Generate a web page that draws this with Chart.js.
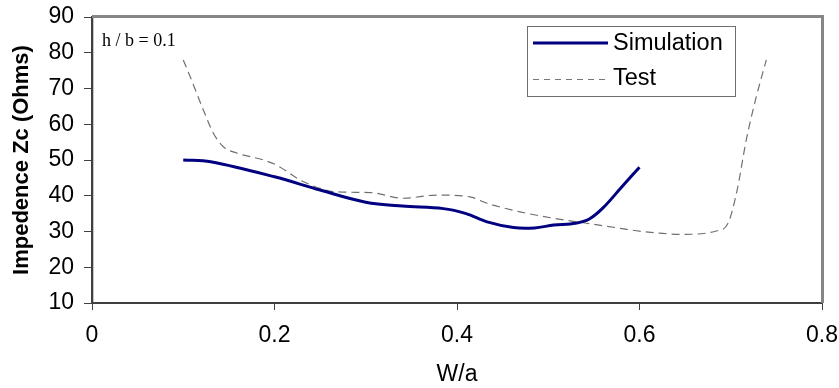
<!DOCTYPE html>
<html>
<head>
<meta charset="utf-8">
<script src="https://cdn.jsdelivr.net/npm/chart.js@4.4.1/dist/chart.umd.min.js"></script>
<style>
  html, body { margin: 0; padding: 0; background: #fff; }
  #wrap { width: 839px; height: 388px; }
</style>
</head>
<body>
<div id="wrap"><canvas id="chart" width="839" height="388"></canvas></div>
<script>
// W/a values and impedance (Ohms)
const simX = [0.1, 0.13, 0.2, 0.25, 0.3, 0.34, 0.385, 0.41, 0.433, 0.462, 0.485, 0.506, 0.53, 0.545, 0.56, 0.58, 0.6];
const simY = [50, 49.5, 45.3, 41.6, 38.2, 37.1, 36.4, 35.0, 32.7, 31.1, 31.0, 31.8, 32.3, 33.5, 36.6, 42.3, 48];

const testX = [0.1, 0.109, 0.122, 0.133, 0.144, 0.159, 0.188, 0.202, 0.232, 0.268, 0.305, 0.341, 0.378, 0.414,
  0.433, 0.469, 0.506, 0.542, 0.579, 0.6, 0.648, 0.685, 0.697, 0.707, 0.717, 0.728, 0.739];
const testY = [78, 72.4, 64, 57.5, 53.7, 51.9, 50, 48.6, 43.9, 41.1, 40.9, 39.3, 40.2, 39.7,
  37.9, 35.5, 33.7, 32.3, 30.9, 30.1, 29.2, 30.2, 32.3, 41.6, 55.6, 67.7, 78];

const xTicks = [0, 0.2, 0.4, 0.6, 0.8];
const yTicks = [10, 20, 30, 40, 50, 60, 70, 80, 90];

const seriesNames = ['Simulation', 'Test'];
const note = 'h / b = 0.1';

const SANS = '"Liberation Sans", Arial, sans-serif';
const SERIF = '"Liberation Serif", "Times New Roman", serif';

const toPoints = (xs, ys) => xs.map((x, i) => ({ x: x, y: ys[i] }));

// keep the plot box where the reference has it (no extra room for edge labels)
const noEdgePadding = s => {
  s.paddingLeft = 0;
  s.paddingRight = 0;
  s.paddingTop = 0;
  s.paddingBottom = 0;
};

// frame, legend box and the h/b note
const extras = {
  id: 'extras',
  beforeDatasetsDraw(chart) {
    const { ctx, chartArea: a } = chart;
    ctx.save();
    ctx.strokeStyle = '#868686';
    ctx.lineWidth = 3;
    ctx.beginPath();
    ctx.moveTo(a.left, a.top - 0.5);
    ctx.lineTo(a.right + 0.5, a.top - 0.5);
    ctx.lineTo(a.right + 0.5, a.bottom);
    ctx.stroke();
    // light inner edge next to the dark axis
    ctx.strokeStyle = '#c8c8c8';
    ctx.lineWidth = 1;
    ctx.beginPath();
    ctx.moveTo(a.left + 1.5, a.top + 1);
    ctx.lineTo(a.left + 1.5, a.bottom - 1);
    ctx.stroke();
    ctx.restore();
  },
  afterDraw(chart) {
    const ctx = chart.ctx;
    ctx.save();
    // legend
    ctx.fillStyle = '#fff';
    ctx.fillRect(527, 26, 209, 71);
    ctx.strokeStyle = '#6e6e6e';
    ctx.lineWidth = 1;
    ctx.strokeRect(527.5, 26.5, 208, 70);

    ctx.strokeStyle = '#000080';
    ctx.lineWidth = 3;
    ctx.beginPath();
    ctx.moveTo(533, 43);
    ctx.lineTo(608, 43);
    ctx.stroke();

    ctx.strokeStyle = '#777';
    ctx.lineWidth = 1;
    ctx.setLineDash([6, 5]);
    ctx.beginPath();
    ctx.moveTo(533, 79.5);
    ctx.lineTo(608, 79.5);
    ctx.stroke();
    ctx.setLineDash([]);

    ctx.fillStyle = '#000';
    ctx.font = '23.5px ' + SANS;
    ctx.textBaseline = 'middle';
    ctx.fillText(seriesNames[0], 613, 44);
    ctx.fillText(seriesNames[1], 613, 79);

    ctx.font = '18px ' + SERIF;
    ctx.textBaseline = 'alphabetic';
    ctx.fillText(note, 102, 46);
    ctx.restore();
  }
};

new Chart(document.getElementById('chart').getContext('2d'), {
  type: 'line',
  data: {
    datasets: [{
      label: seriesNames[0],
      data: toPoints(simX, simY),
      borderColor: '#000080',
      borderWidth: 3,
      pointRadius: 0,
      tension: 0.35,
      fill: false
    }, {
      label: seriesNames[1],
      data: toPoints(testX, testY),
      borderColor: '#707070',
      borderWidth: 1.2,
      borderDash: [8, 5],
      pointRadius: 0,
      cubicInterpolationMode: 'monotone',
      fill: false
    }]
  },
  options: {
    responsive: false,
    animation: false,
    layout: { autoPadding: false, padding: { left: 0, top: 17, right: 17, bottom: 0 } },
    plugins: {
      legend: { display: false },
      tooltip: { enabled: false }
    },
    scales: {
      x: {
        type: 'linear',
        min: 0,
        max: 0.8,
        afterBuildTicks: s => { s.ticks = xTicks.map(v => ({ value: v })); },
        afterFit: s => { s.height = 85; noEdgePadding(s); },
        ticks: {
          color: '#000',
          padding: 12,
          font: { family: SANS, size: 23 },
          callback: v => String(v)
        },
        grid: { display: true, drawOnChartArea: false, drawTicks: true, tickLength: 7, color: '#404040' },
        border: { display: true, color: '#404040', width: 2 },
        title: {
          display: true,
          text: 'W/a',
          color: '#000',
          font: { family: SANS, size: 23 },
          padding: { top: 0, bottom: 0 }
        }
      },
      y: {
        min: 10,
        max: 90,
        afterBuildTicks: s => { s.ticks = yTicks.map(v => ({ value: v })); },
        afterFit: s => { s.width = 92; noEdgePadding(s); },
        ticks: {
          color: '#000',
          padding: 10,
          font: { family: SANS, size: 23 }
        },
        grid: { display: true, drawOnChartArea: false, drawTicks: true, tickLength: 8, color: '#404040' },
        border: { display: true, color: '#404040', width: 2 },
        title: {
          display: true,
          text: 'Impedence Zc (Ohms)',
          color: '#000',
          font: { family: SANS, size: 22, weight: 'bold' },
          padding: { top: 9, bottom: 0 }
        }
      }
    }
  },
  plugins: [extras]
});
</script>
</body>
</html>
